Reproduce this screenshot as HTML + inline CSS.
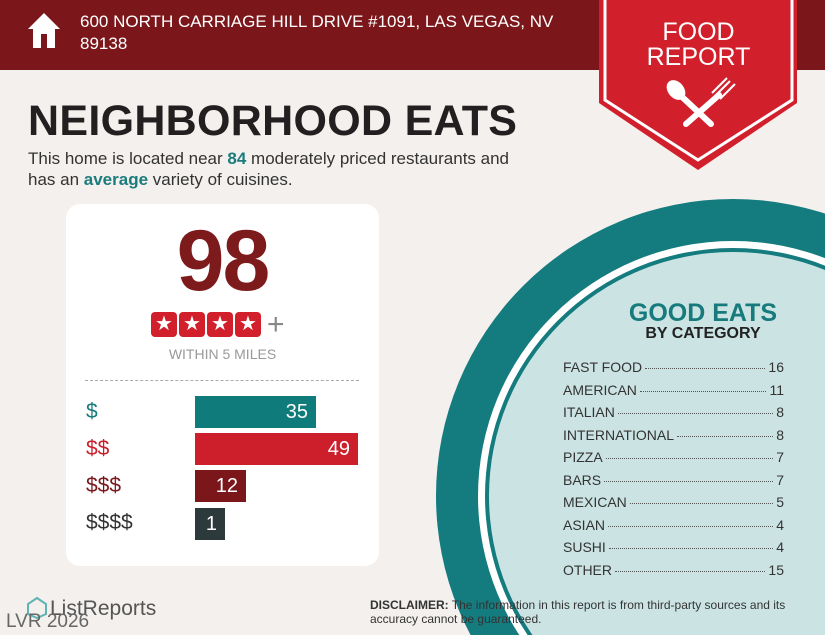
<!DOCTYPE html>
<html><head><meta charset="utf-8"><style>
*{margin:0;padding:0;box-sizing:border-box}
html,body{width:825px;height:635px;overflow:hidden}
body{background:#f3f0ed;font-family:"Liberation Sans",sans-serif;position:relative}
.abs{position:absolute}
.top{left:0;top:0;width:825px;height:70px;background:#7b171b}
.addr{left:80px;top:11px;color:#fff;font-size:17px;line-height:22px;width:500px}
h1{position:absolute;left:28px;top:97px;font-size:43px;font-weight:bold;color:#231f20;letter-spacing:0.3px}
.sub{left:28px;top:148px;font-size:17px;line-height:21px;color:#333;width:600px}
.sub b{color:#1b7c7d}
.card{left:66px;top:204px;width:313px;height:362px;background:#fff;border-radius:14px}
.lbl{left:86px;font-size:21px}
.bar{left:195px;height:32px;color:#fff;font-size:20px;text-align:right;padding-right:8px;line-height:32px}
.cat{left:563px;width:221px;font-size:14px;color:#333;display:flex;align-items:baseline}
.cat .d{flex:1;border-bottom:1px dotted #555;margin:0 3px;height:1px;transform:translateY(-3px)}
</style></head><body>
<svg class="abs" style="left:0;top:0" width="825" height="635">
<circle cx="733" cy="496" r="297" fill="#147b7e"/>
<circle cx="733" cy="496" r="255" fill="#fff"/>
<circle cx="733" cy="496" r="248" fill="#147b7e"/>
<circle cx="733" cy="496" r="244" fill="#cbe4e3"/>
</svg>
<div class="abs top"></div>
<svg class="abs" style="left:0;top:0" width="825" height="200">
<polygon points="599,0 797,0 797,103 698,170 599,103" fill="#d21f2c"/>
<polyline points="605,0 605,100 698,160 792,100 792,0" fill="none" stroke="#fff" stroke-width="3"/>
<g stroke="#fff" stroke-width="6" stroke-linecap="round">
<line x1="680" y1="95" x2="711" y2="124"/><line x1="719" y1="95" x2="686" y2="124"/>
</g>
<ellipse cx="676" cy="90" rx="8" ry="11" fill="#fff" transform="rotate(-40 676 90)"/>
<g stroke="#fff" stroke-width="2"><line x1="715" y1="96" x2="730" y2="81"/><line x1="720" y1="99" x2="735" y2="84"/><line x1="712" y1="93" x2="727" y2="78"/></g>
<path d="M28 29 L44 13 L60 29 L55 29 L55 48 L33 48 L33 29Z" fill="#fff"/>
<rect x="41" y="34" width="6" height="14" fill="#7b171b"/>
</svg>
<div class="abs" style="left:600px;top:20px;width:197px;text-align:center;color:#fff;font-size:25px;line-height:25px">FOOD<br>REPORT</div>
<div class="abs addr">600 NORTH CARRIAGE HILL DRIVE #1091, LAS VEGAS, NV 89138</div>
<h1>NEIGHBORHOOD EATS</h1>
<div class="abs sub">This home is located near <b>84</b> moderately priced restaurants and<br>has an <b>average</b> variety of cuisines.</div>
<div class="abs card"></div>
<div class="abs" style="left:66px;top:212px;width:313px;text-align:center;font-size:86px;font-weight:bold;color:#7d1a1c;letter-spacing:-2px">98</div>
<div class="abs" style="left:151px;top:312px;display:flex;gap:2px">
<div style="width:26px;height:25px;background:#d21f2c;border-radius:4px;color:#fff;text-align:center;font-size:20px;line-height:25px">★</div>
<div style="width:26px;height:25px;background:#d21f2c;border-radius:4px;color:#fff;text-align:center;font-size:20px;line-height:25px">★</div>
<div style="width:26px;height:25px;background:#d21f2c;border-radius:4px;color:#fff;text-align:center;font-size:20px;line-height:25px">★</div>
<div style="width:26px;height:25px;background:#d21f2c;border-radius:4px;color:#fff;text-align:center;font-size:20px;line-height:25px">★</div>
<div style="color:#888;font-size:30px;line-height:25px;margin-left:4px">+</div>
</div>
<div class="abs" style="left:66px;top:346px;width:313px;text-align:center;font-size:14px;color:#999">WITHIN 5 MILES</div>
<div class="abs" style="left:85px;top:380px;width:274px;border-top:1px dashed #aaa"></div>
<div class="abs lbl" style="top:400px;color:#177a7c">$</div>
<div class="abs lbl" style="top:437px;color:#c8202b">$$</div>
<div class="abs lbl" style="top:474px;color:#7b171b">$$$</div>
<div class="abs lbl" style="top:511px;color:#333">$$$$</div>
<div class="abs bar" style="top:396px;width:121px;background:#0f7b7a">35</div>
<div class="abs bar" style="top:433px;width:163px;background:#cd1f2b">49</div>
<div class="abs bar" style="top:470px;width:51px;background:#7b171b">12</div>
<div class="abs bar" style="top:508px;width:30px;background:#2d3a3b">1</div>
<div class="abs" style="left:603px;top:299px;width:200px;text-align:center;font-size:25px;font-weight:bold;color:#177a7c">GOOD EATS</div>
<div class="abs" style="left:603px;top:325px;width:200px;text-align:center;font-size:16px;font-weight:bold;color:#222">BY CATEGORY</div>
<div class="abs cat" style="top:359px">FAST FOOD<span class="d"></span>16</div>
<div class="abs cat" style="top:382px">AMERICAN<span class="d"></span>11</div>
<div class="abs cat" style="top:404px">ITALIAN<span class="d"></span>8</div>
<div class="abs cat" style="top:427px">INTERNATIONAL<span class="d"></span>8</div>
<div class="abs cat" style="top:449px">PIZZA<span class="d"></span>7</div>
<div class="abs cat" style="top:472px">BARS<span class="d"></span>7</div>
<div class="abs cat" style="top:494px">MEXICAN<span class="d"></span>5</div>
<div class="abs cat" style="top:517px">ASIAN<span class="d"></span>4</div>
<div class="abs cat" style="top:539px">SUSHI<span class="d"></span>4</div>
<div class="abs cat" style="top:562px">OTHER<span class="d"></span>15</div>
<div class="abs" style="left:370px;top:598px;font-size:12px;line-height:14px;color:#333;width:420px"><b>DISCLAIMER:</b> The information in this report is from third-party sources and its accuracy cannot be guaranteed.</div>
<svg class="abs" style="left:26px;top:596px" width="22" height="24"><path d="M11 2 L20 8 L20 18 L11 22 L2 18 L2 8Z" fill="none" stroke="#5fb3b3" stroke-width="2"/></svg>
<div class="abs" style="left:50px;top:597px;font-size:21px;color:#555">ListReports</div>
<div class="abs" style="left:6px;top:611px;font-size:19px;color:#666">LVR 2026</div>
</body></html>
